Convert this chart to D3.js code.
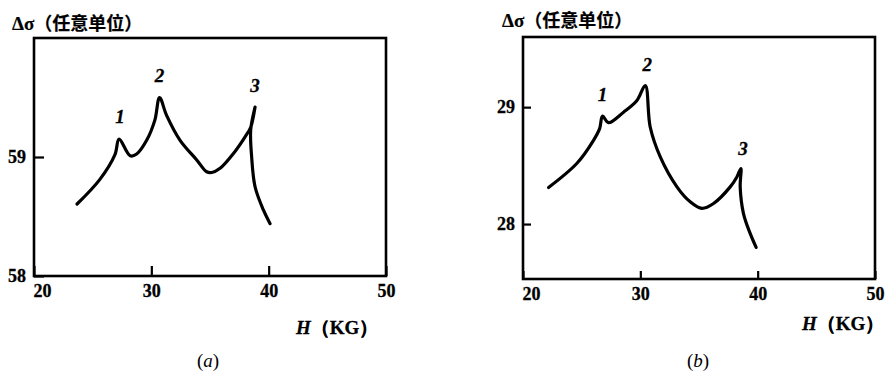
<!DOCTYPE html>
<html>
<head>
<meta charset="utf-8">
<script src="https://cdn.jsdelivr.net/npm/d3@7"></script>
<style>
  html, body { margin: 0; padding: 0; background: #fff; }
  svg { display: block; }
</style>
</head>
<body>
<svg id="chart" width="885" height="374"></svg>
<script>
// Magnetoresistance Δσ versus field H for two samples (a) and (b)
const xTicks = [20, 30, 40, 50];

const aYTicks = [58, 59];
const aH     = [23.67, 25.6, 26.9, 27.25, 28.2, 28.75, 29.6, 30.3, 30.7, 31.3, 32.45, 33.87, 34.72, 35.15, 35.86, 37.0, 37.99, 38.47, 38.84, 38.47, 38.55, 38.84, 39.55, 40.12];
const aSigma = [58.605, 58.81, 59.02, 59.15, 59.01, 59.025, 59.14, 59.31, 59.50, 59.35, 59.14, 58.975, 58.876, 58.87, 58.905, 59.03, 59.17, 59.25, 59.42, 59.23, 59.0, 58.75, 58.555, 58.44];

const bYTicks = [28, 29];
const bH     = [22.18, 24.6, 26.01, 26.53, 26.78, 27.29, 28.57, 29.71, 30.42, 30.84, 31.7, 33.12, 34.25, 35.25, 36.24, 37.66, 38.23, 38.57, 38.51, 38.79, 39.36, 39.87];
const bSigma = [28.313, 28.52, 28.716, 28.816, 28.923, 28.867, 28.957, 29.057, 29.185, 28.83, 28.574, 28.318, 28.19, 28.134, 28.176, 28.318, 28.403, 28.475, 28.318, 28.09, 27.92, 27.80];

const peakNames = ["1", "2", "3"];
const aPeaks = [3, 8, 18];   // indices of the cusps in aH / aSigma
const bPeaks = [4, 8, 17];

const yTitle = "Δσ（任意单位）";
const xTitleVar = "H";
const xTitleUnit = "（KG）";

const svg = d3.select("#chart");
const serif = "'Liberation Serif', 'DejaVu Serif', serif";
const cjk = "'Noto Sans CJK SC', sans-serif";

const panels = [
  { H: aH, S: aSigma, peaks: aPeaks, yTicks: aYTicks, yDomain: [58, 60],
    x0: 34, x1: 386, y0: 38, y1: 276, tick: 10,
    titleX: 12, titleY: 30, xtX: 296, xtY: 334, tag: "a", tagX: 208, tagY: 367,
    peakOff: [[1, -16], [0, -16], [0, -15]] },
  { H: bH, S: bSigma, peaks: bPeaks, yTicks: bYTicks, yDomain: [27.53, 29.6],
    x0: 523, x1: 875, y0: 37, y1: 279, tick: 8,
    titleX: 502, titleY: 27, xtX: 802, xtY: 330, tag: "b", tagX: 698, tagY: 367,
    peakOff: [[0, -15], [2, -15], [2, -14]] }
];

// heavy print look for labels
function ink(sel, w) {
  return sel.attr("stroke", "#000").attr("stroke-width", w).attr("paint-order", "stroke");
}

panels.forEach(p => {
  const g = svg.append("g");
  const x = d3.scaleLinear().domain([20, 50]).range([p.x0, p.x1]);
  const y = d3.scaleLinear().domain(p.yDomain).range([p.y1, p.y0]);

  // frame
  g.append("rect")
    .attr("x", p.x0).attr("y", p.y0)
    .attr("width", p.x1 - p.x0).attr("height", p.y1 - p.y0)
    .attr("fill", "none").attr("stroke", "#000").attr("stroke-width", 2.6);

  // x axis: inward ticks
  const xa = g.append("g")
    .attr("transform", `translate(0,${p.y1})`)
    .call(d3.axisBottom(x).tickValues(xTicks).tickFormat(d3.format("d"))
      .tickSizeInner(-p.tick).tickSizeOuter(0).tickPadding(8));
  xa.select(".domain").remove();
  xa.selectAll("line").attr("stroke", "#000").attr("stroke-width", 2.2);
  xa.selectAll("text")
    .attr("font-family", serif).attr("font-weight", "bold")
    .attr("font-size", 18).attr("fill", "#000")
    .attr("text-anchor", (d, i) => i === 0 ? "start" : "middle")
    .attr("dx", (d, i) => i === 0 ? -1 : 0);
  ink(xa.selectAll("text"), 0.3);

  // y axis: inward ticks
  const ya = g.append("g")
    .attr("transform", `translate(${p.x0},0)`)
    .call(d3.axisLeft(y).tickValues(p.yTicks).tickFormat(d3.format("d"))
      .tickSizeInner(-p.tick).tickSizeOuter(0).tickPadding(8));
  ya.select(".domain").remove();
  ya.selectAll("line").attr("stroke", "#000").attr("stroke-width", 2.2);
  ya.selectAll("text")
    .attr("font-family", serif).attr("font-weight", "bold")
    .attr("font-size", 18).attr("fill", "#000");
  ink(ya.selectAll("text"), 0.3);

  // curve
  const pts = p.H.map((h, i) => [h, p.S[i]]);
  const line = d3.line()
    .x(d => x(d[0])).y(d => y(d[1]))
    .curve(d3.curveCatmullRom.alpha(0.5));
  g.append("path")
    .attr("d", line(pts))
    .attr("fill", "none").attr("stroke", "#000")
    .attr("stroke-width", 3.2).attr("stroke-linejoin", "round").attr("stroke-linecap", "round");

  // peak numbers
  p.peaks.forEach((idx, k) => {
    const t = g.append("text")
      .attr("x", x(p.H[idx]) + p.peakOff[k][0])
      .attr("y", y(p.S[idx]) + p.peakOff[k][1])
      .attr("text-anchor", "middle")
      .attr("font-family", serif).attr("font-style", "italic").attr("font-weight", "bold")
      .attr("font-size", 19).attr("fill", "#000")
      .text(peakNames[k]);
    ink(t, 0.3);
  });

  // y title
  const t = g.append("text").attr("x", p.titleX).attr("y", p.titleY)
    .attr("font-size", 18).attr("fill", "#000");
  t.append("tspan").attr("font-family", serif).attr("font-weight", "bold").attr("font-size", 19).text(yTitle.slice(0, 2));
  t.append("tspan").attr("font-family", cjk).attr("font-weight", "bold").attr("font-size", 18).text(yTitle.slice(2));
  ink(t, 0.2);

  // x title
  const xt = g.append("text").attr("x", p.xtX).attr("y", p.xtY)
    .attr("font-size", 19).attr("fill", "#000");
  xt.append("tspan").attr("font-family", serif).attr("font-weight", "bold").attr("font-style", "italic").text(xTitleVar);
  xt.append("tspan").attr("font-family", serif).attr("font-weight", "bold").text(xTitleUnit);
  ink(xt, 0.3);

  // panel tag
  const tg = g.append("text").attr("x", p.tagX).attr("y", p.tagY)
    .attr("text-anchor", "middle").attr("font-family", serif)
    .attr("font-size", 19).attr("fill", "#000");
  tg.append("tspan").text("(");
  tg.append("tspan").attr("font-style", "italic").text(p.tag);
  tg.append("tspan").text(")");
});
</script>
</body>
</html>
